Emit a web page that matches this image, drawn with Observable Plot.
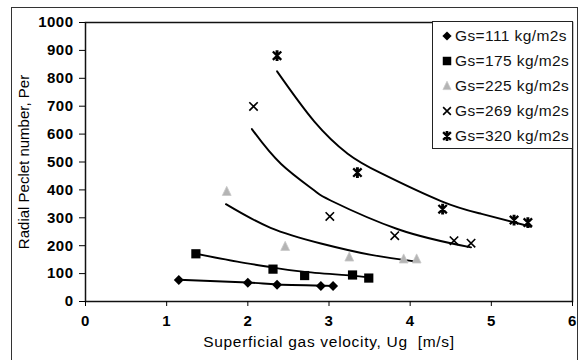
<!DOCTYPE html>
<html><head><meta charset="utf-8">
<script src="https://cdn.jsdelivr.net/npm/d3@7"></script>
<script src="https://cdn.jsdelivr.net/npm/@observablehq/plot@0.6"></script>
<style>
body{margin:0;width:581px;height:360px;overflow:hidden;background:#fff;font-family:"Liberation Sans",Arial,sans-serif;position:relative}
#frame{position:absolute;left:11px;top:7px;width:565px;height:420px;border:1.5px solid #333;}
#chart{position:absolute;left:0;top:0}
#chart g[aria-label="x-axis tick label"] text, #chart g[aria-label="y-axis tick label"] text{font-weight:bold;letter-spacing:0.5px}
#chart g[aria-label="x-axis label"] text{font-size:15.5px;letter-spacing:0.7px}
#legend{position:absolute;left:432px;top:21px;width:141px;height:128px;border:1.5px solid #222;background:#fff;box-sizing:border-box}
.row{position:absolute;left:8px;height:20px;display:flex;align-items:center;font-size:15.5px;letter-spacing:0.4px;color:#111;white-space:nowrap}
.row svg{margin-right:2px}
</style></head>
<body>
<div id="frame"></div>
<div id="chart"></div>
<div id="legend"></div>
<script>
// ---- data ----
const seriesNames = ["Gs=111 kg/m2s","Gs=175 kg/m2s","Gs=225 kg/m2s","Gs=269 kg/m2s","Gs=320 kg/m2s"];
const ug111 = [1.15, 2.0, 2.36, 2.90, 3.05];
const per111 = [77, 67, 60, 56, 56];
const ug175 = [1.36, 2.31, 2.70, 3.29, 3.49];
const per175 = [171, 116, 93, 95, 84];
const ug225 = [1.74, 2.46, 3.25, 3.92, 4.08];
const per225 = [394, 197, 159, 152, 152];
const ug269 = [2.07, 3.01, 3.81, 4.54, 4.75];
const per269 = [699, 305, 236, 218, 209];
const ug320 = [2.36, 3.35, 4.40, 5.28, 5.45];
const per320 = [881, 462, 331, 292, 283];
// fitted trend curves
const fitUg111 = [1.15, 2.0, 2.37, 3.07];
const fitPer111 = [78, 68, 61, 56];
const fitUg175 = [1.36, 1.87, 2.30, 2.70, 3.31, 3.50];
const fitPer175 = [171, 143, 122, 106, 92, 86];
const fitUg225 = [1.73, 2.28, 2.90, 3.52, 4.10];
const fitPer225 = [349, 264, 208, 167, 142];
const fitUg269 = [2.05, 2.41, 2.82, 3.02, 3.85, 4.75];
const fitPer269 = [618, 493, 398, 362, 259, 194];
const fitUg320 = [2.36, 2.82, 3.23, 3.64, 4.38, 4.88, 5.49];
const fitPer320 = [825, 645, 530, 460, 360, 314, 268];
const xTicks = [0, 1, 2, 3, 4, 5, 6];
const yTicks = [0, 100, 200, 300, 400, 500, 600, 700, 800, 900, 1000];

// ---- custom marker shapes ----
const symDiamond = {draw(c, s){const r=Math.sqrt(s/Math.PI);c.moveTo(0,-r);c.lineTo(r,0);c.lineTo(0,r);c.lineTo(-r,0);c.closePath();}};
const symSquare = {draw(c, s){const r=Math.sqrt(s/Math.PI);c.rect(-r,-r,2*r,2*r);}};
const symTri = {draw(c, s){const r=Math.sqrt(s/Math.PI);c.moveTo(0,-r);c.lineTo(r*0.85,r*0.75);c.lineTo(-r*0.85,r*0.75);c.closePath();}};
const symTimes = {draw(c, s){const r=Math.sqrt(s/Math.PI);c.moveTo(-r,-r);c.lineTo(r,r);c.moveTo(r,-r);c.lineTo(-r,r);}};
const symStar = {draw(c, s){const r=Math.sqrt(s/Math.PI);c.moveTo(-r,-r);c.lineTo(r,r);c.moveTo(r,-r);c.lineTo(-r,r);c.moveTo(0,-r);c.lineTo(0,r);c.moveTo(-r*0.35,-r);c.lineTo(r*0.35,-r);c.moveTo(-r*0.35,r);c.lineTo(r*0.35,r);}};

const styles = [
  {sym: symDiamond, r: 5, fill: "#000", stroke: "none", sw: 0},
  {sym: symSquare, r: 4.6, fill: "#000", stroke: "none", sw: 0},
  {sym: symTri, r: 5.2, fill: "#b4b4b4", stroke: "#c8c8c8", sw: 0.8},
  {sym: symTimes, r: 4.2, fill: "none", stroke: "#000", sw: 1.6},
  {sym: symStar, r: 4.2, fill: "none", stroke: "#000", sw: 2.3}
];

const pts = [[ug111,per111],[ug175,per175],[ug225,per225],[ug269,per269],[ug320,per320]]
  .map(([u,p],i)=>u.map((x,j)=>({ug:x, per:p[j], s:i})));
const fits = [[fitUg111,fitPer111],[fitUg175,fitPer175],[fitUg225,fitPer225],[fitUg269,fitPer269],[fitUg320,fitPer320]]
  .map(([u,p],i)=>u.map((x,j)=>({ug:x, per:p[j], s:i})));

const marks = [];
fits.forEach(f => marks.push(Plot.line(f, {x:"ug", y:"per", stroke:"#000", strokeWidth:1.9, curve:"natural"})));
pts.forEach((p,i) => {
  const st = styles[i];
  marks.push(Plot.dot(p, {x:"ug", y:"per", symbol: st.sym, r: st.r, fill: st.fill, stroke: st.stroke, strokeWidth: st.sw}));
});

const chart = Plot.plot({
  width: 581, height: 360,
  marginLeft: 85, marginRight: 9, marginTop: 22, marginBottom: 59,
  style: {fontFamily: '"Liberation Sans", Arial, sans-serif', fontSize: "15px", color: "#000", background: "transparent"},
  x: {domain: [0, 6]},
  y: {domain: [0, 1000]},
  marks: [
    Plot.frame({stroke: "#111", strokeWidth: 1.5}),
    Plot.axisX({ticks: xTicks, tickSize: 5, tickPadding: 9, tickFormat: d3.format("d"), label: "Superficial gas velocity, Ug\u00a0\u00a0[m/s]", labelArrow: "none", labelAnchor: "center", labelOffset: 45, fontSize: 15}),
    Plot.axisY({ticks: yTicks, tickSize: 6, tickPadding: 6, tickFormat: d3.format("d"), label: "Radial Peclet number, Per", labelArrow: "none", labelAnchor: "center", labelOffset: 67, fontSize: 15}),
    ...marks
  ]
});
document.getElementById("chart").appendChild(chart);

// ---- legend ----
const leg = document.getElementById("legend");
seriesNames.forEach((name, i) => {
  const st = styles[i];
  const row = document.createElement("div");
  row.className = "row";
  row.style.top = (4 + i * 25) + "px";
  const path = d3.symbol(st.sym, Math.PI * st.r * st.r * 0.85)();
  row.innerHTML = `<svg width="12" height="12" viewBox="-6 -6 12 12"><path d="${path}" fill="${st.fill}" stroke="${st.stroke}" stroke-width="${st.sw}"/></svg><span>${name}</span>`;
  leg.appendChild(row);
});
</script>
</body></html>
